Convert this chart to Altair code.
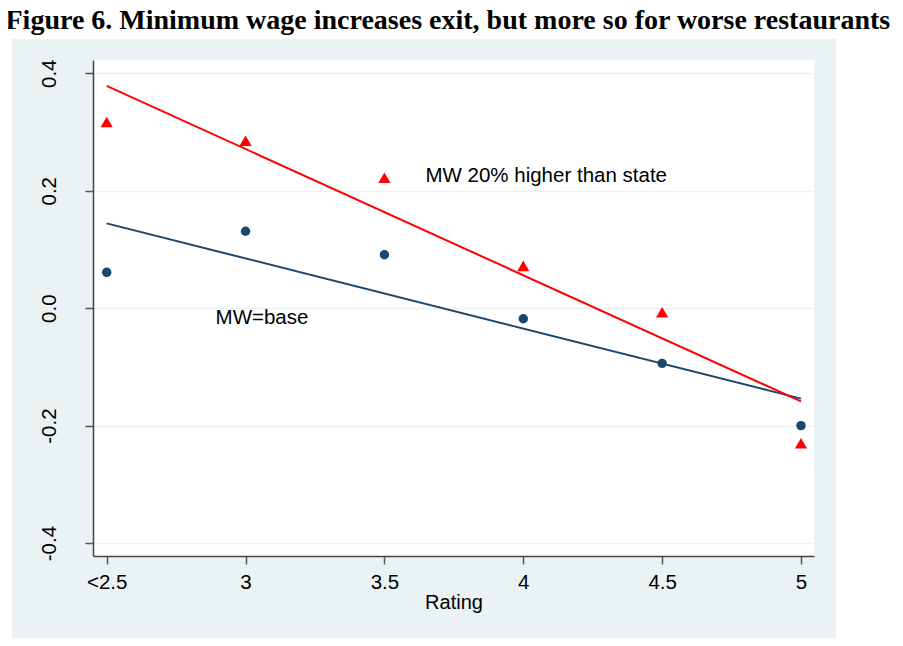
import altair as alt
import pandas as pd

# ---- data ----
ratings = [2.5, 3.0, 3.5, 4.0, 4.5, 5.0]
mw_base = [0.061, 0.131, 0.091, -0.018, -0.094, -0.200]
mw_high = [0.317, 0.285, 0.222, 0.072, -0.007, -0.230]

x_ticks = [2.5, 3.0, 3.5, 4.0, 4.5, 5.0]
x_tick_labels = ["<2.5", "3", "3.5", "4", "4.5", "5"]
y_ticks = [-0.4, -0.2, 0.0, 0.2, 0.4]
y_tick_labels = ["-0.4", "-0.2", "0.0", "0.2", "0.4"]

title_text = "Figure 6. Minimum wage increases exit, but more so for worse restaurants"
high_label = "MW 20% higher than state"
high_label_rating = 3.5
base_label = "MW=base"
base_label_x = [2.892]
base_label_y = [-0.016]

PANEL = "#EAF2F3"
BLUE = "#1A476F"
RED = "#FF0000"
FONT = "Liberation Sans"

df = pd.DataFrame({
    "rating": ratings + ratings,
    "value": mw_base + mw_high,
    "series": ["base"] * len(ratings) + ["high"] * len(ratings),
})
base_df = df[df.series == "base"]
high_df = df[df.series == "high"]
high_lab_df = high_df[high_df.rating == high_label_rating].assign(label=high_label)
base_lab_df = pd.DataFrame({"rating": base_label_x, "value": base_label_y, "label": [base_label]})
one = pd.DataFrame({"a": [0]})


def label_expr(vals, labs):
    parts = [f"abs(datum.value - ({v})) < 1e-6 ? '{l}'" for v, l in zip(vals, labs)]
    return " : ".join(parts) + " : ''"


xscale = alt.Scale(domain=[2.4507, 5.0468], nice=False, zero=False)
yscale = alt.Scale(domain=[-0.422, 0.4226], nice=False, zero=False)

xaxis = alt.Axis(
    values=x_ticks, labelExpr=label_expr(x_ticks, x_tick_labels), title="Rating",
    grid=False, tickSize=8, labelPadding=8, labelFont=FONT, labelFontSize=20.5,
    labelColor="black", titleFont=FONT, titleFontSize=20, titleFontWeight="normal",
    titleColor="black", titleY=52, titleBaseline="alphabetic", domainColor="#444",
    domainWidth=1.5, tickColor="#555", tickWidth=1.5, labelFlush=False, labelOverlap=False,
)
yaxis = alt.Axis(
    values=y_ticks, labelExpr=label_expr(y_ticks, y_tick_labels), title=None,
    grid=True, gridColor=PANEL, gridWidth=1.5, tickSize=8, labelPadding=30,
    labelAngle=270, labelAlign="center", labelBaseline="alphabetic",
    labelFont=FONT, labelFontSize=20.5, labelColor="black", domainColor="#444",
    domainWidth=1.5, tickColor="#555", tickWidth=1.5, labelFlush=False, labelOverlap=False,
)
X = alt.X("rating:Q", scale=xscale, axis=xaxis)
Y = alt.Y("value:Q", scale=yscale, axis=yaxis)

# white page areas outside the Stata graph region
top_strip = alt.Chart(one).mark_rect(color="white").encode(
    x=alt.value(-85), x2=alt.value(802), y=alt.value(-52), y2=alt.value(-21))
left_strip = alt.Chart(one).mark_rect(color="white").encode(
    x=alt.value(-85), x2=alt.value(-81), y=alt.value(-52), y2=alt.value(578))
right_strip = alt.Chart(one).mark_rect(color="white").encode(
    x=alt.value(743), x2=alt.value(802), y=alt.value(-52), y2=alt.value(578))

base_fit = alt.Chart(base_df).transform_regression("rating", "value").mark_line(
    color=BLUE, strokeWidth=2).encode(x=X, y=Y)
high_fit = alt.Chart(high_df).transform_regression("rating", "value").mark_line(
    color=RED, strokeWidth=2).encode(x=X, y=Y)
base_pts = alt.Chart(base_df).mark_point(
    shape="circle", filled=True, size=90, color=BLUE, opacity=1).encode(x=X, y=Y)
high_pts = alt.Chart(high_df).mark_point(
    shape="triangle-up", filled=True, size=150, color=RED, opacity=1).encode(x=X, y=Y)

high_txt = alt.Chart(high_lab_df).mark_text(
    align="left", baseline="middle", dx=41, dy=-2, font=FONT, fontSize=20.5, color="black"
).encode(x=X, y=Y, text="label:N")
base_txt = alt.Chart(base_lab_df).mark_text(
    align="left", baseline="middle", font=FONT, fontSize=20.5, color="black"
).encode(x=X, y=Y, text="label:N")

title = alt.Chart(one).mark_text(
    text=title_text, align="left", baseline="alphabetic", font="Liberation Serif",
    fontWeight="bold", fontSize=28, color="black"
).encode(x=alt.value(-87.5), y=alt.value(-31))

chart = alt.layer(
    top_strip, left_strip, right_strip,
    base_fit, high_fit, base_pts, high_pts, high_txt, base_txt, title,
).properties(
    width=721, height=496,
    autosize=alt.AutoSizeParams(type="none"),
    padding={"left": 85, "top": 52, "right": 81, "bottom": 82},
    background=PANEL,
).configure_view(fill="white", strokeWidth=0)

chart.save("out.html", embed_options={"renderer": "svg", "actions": False})
